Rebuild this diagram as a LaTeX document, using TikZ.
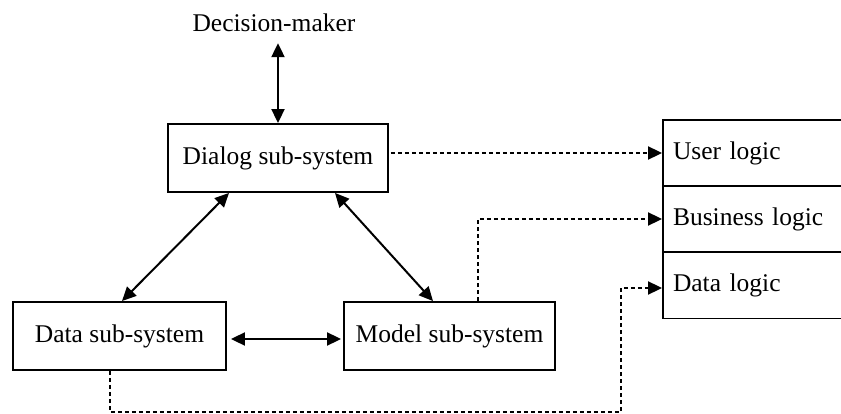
\documentclass[tikz,border=0pt]{standalone}
\usepackage{fontspec}
\setmainfont{Liberation Serif}
\usetikzlibrary{arrows.meta}
\begin{document}
\begin{tikzpicture}[x=1pt,y=-1pt,
  every node/.style={font=\fontsize{25.5}{29}\selectfont},
  box/.style={draw,line width=1.9pt,minimum height=68pt,inner sep=0pt},
  logicbox/.style={draw,line width=1.9pt,minimum height=66pt,text width=167pt,align=left,inner xsep=10pt,inner ysep=0pt},
  link/.style={line width=2pt,{Triangle[length=14pt,width=13pt]}-{Triangle[length=14pt,width=13pt]}},
  dlink/.style={line width=2pt,dash pattern=on 4pt off 3pt,-{Triangle[length=14pt,width=13pt]}}]
\clip (0,0) rectangle (841,414);
\fill[white] (0,0) rectangle (841,414);
\node[inner sep=0pt] (dm) at (274,23) {Decision-maker};
\node[box,minimum width=220pt] (dialog) at (278,158) {Dialog sub-system};
\node[box,minimum width=213pt] (data) at (119.5,336) {Data sub-system};
\node[box,minimum width=211pt] (model) at (449.5,336) {Model sub-system};
\node[logicbox] (user) at (756.5,153) {User logic};
\node[logicbox] (business) at (756.5,219) {Business logic};
\node[logicbox] (dlogic) at (756.5,285.5) {Data logic};
\coordinate (turn) at (621,412);
\draw[link,shorten <=11pt] (dialog.north |- dm.south) -- (dialog.north);
\draw[link] ([xshift=-49pt]dialog.south) -- ([xshift=2.5pt]data.north);
\draw[link] ([xshift=57pt]dialog.south) -- ([xshift=-16.5pt]model.north);
\draw[link,shorten <=4pt,shorten >=2pt] ([yshift=-3pt]data.east) -- ([yshift=-3pt]model.west);
\draw[dlink,shorten <=2pt] (dialog.east |- user.west) -- (user.west);
\draw[dlink] ([xshift=28.5pt]model.north) |- (business.west);
\draw[dlink] ([xshift=-9.5pt]data.south) |- (turn) |- ([yshift=-2.5pt]dlogic.west);
\end{tikzpicture}
\end{document}
